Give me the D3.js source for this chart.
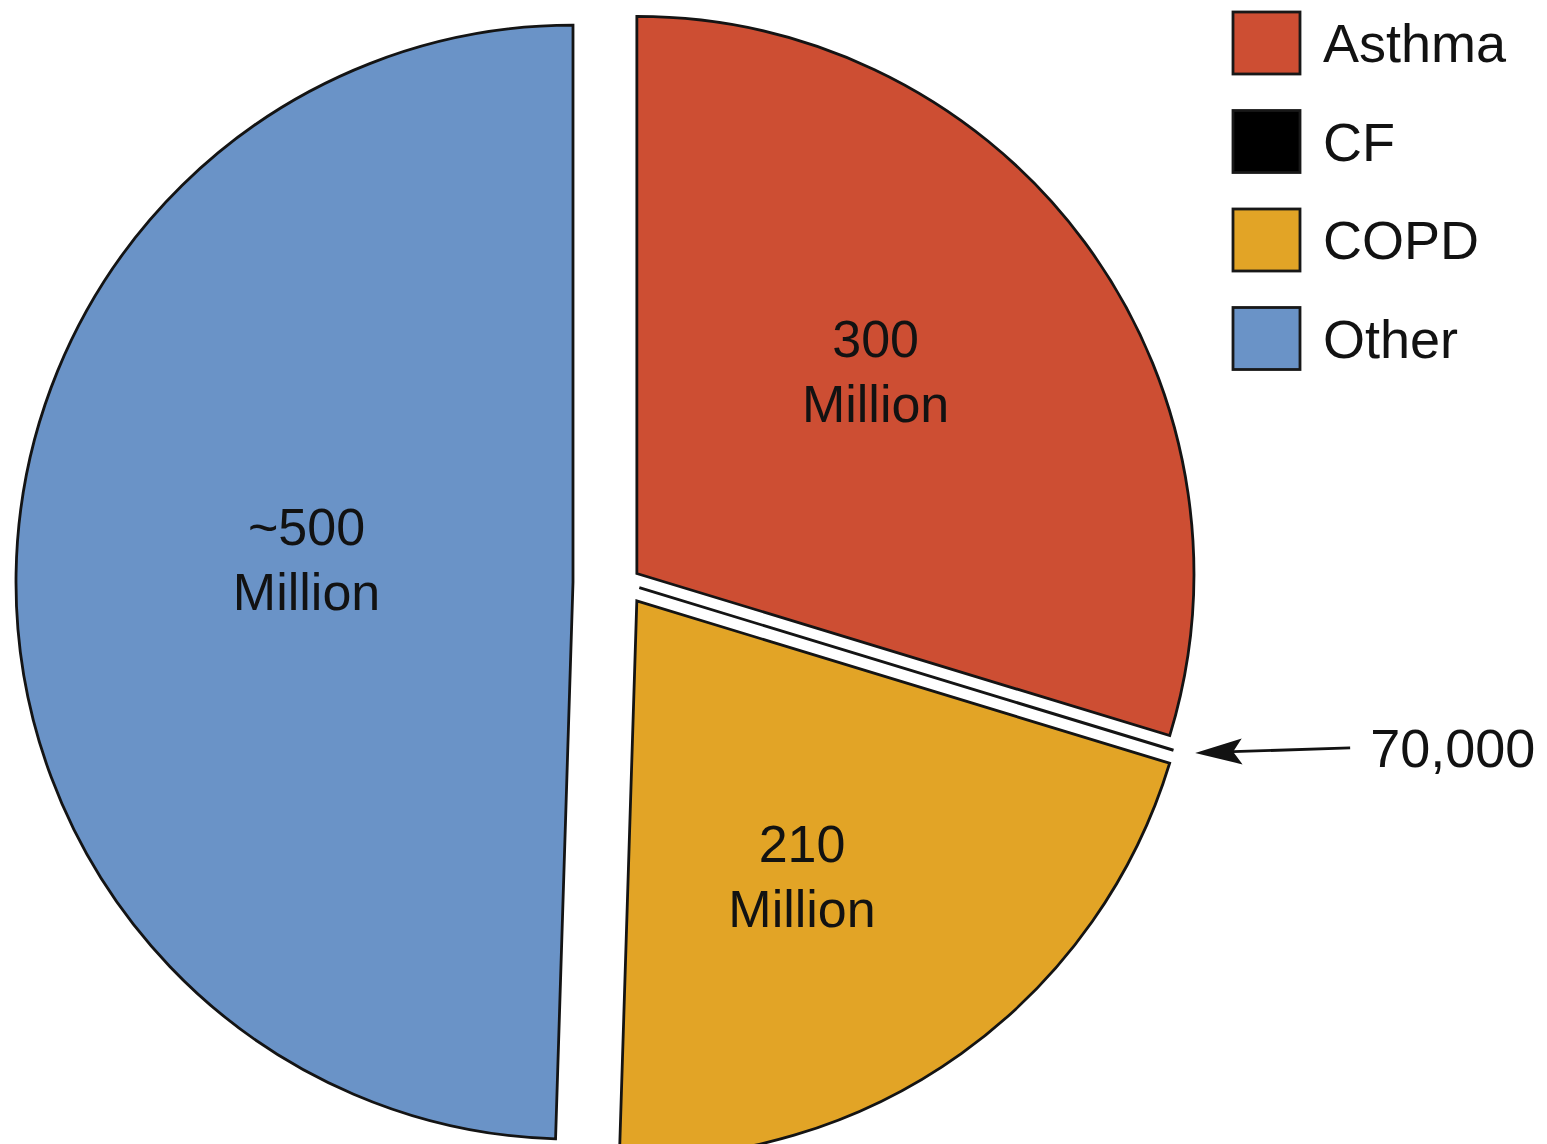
<!DOCTYPE html>
<html>
<head>
<meta charset="utf-8">
<script src="https://cdn.jsdelivr.net/npm/d3@7"></script>
<style>
  html, body { margin: 0; padding: 0; background: #ffffff; }
  svg { display: block; }
  text { font-family: "Liberation Sans", Arial, Helvetica, sans-serif; fill: #121212; }
</style>
</head>
<body>
<svg id="chart" width="1547" height="1144"></svg>
<script>
// People affected by chronic respiratory disease, by condition
const categories = ["Asthma", "CF", "COPD", "Other"];
const values = [300e6, 70e3, 210e6, 500e6];
const sliceLabels = [["300", "Million"], null, ["210", "Million"], ["~500", "Million"]];
const calloutLabel = "70,000";
const colors = ["#CD4E33", "#000000", "#E2A426", "#6A93C7"];

// layout
const width = 1547, height = 1144;
const cx = 624, cy = 583, R = 557;
const explode = { Asthma: 16, CF: 16, COPD: 22, Other: 51 };
const labelNudge = { Asthma: [15, -36], COPD: [3, 50], Other: [12, -18] };

const data = categories.map((c, i) => ({ name: c, value: values[i], color: colors[i], label: sliceLabels[i] }));

const svg = d3.select("#chart");

const pie = d3.pie()
  .sort(null)
  .value(d => d.value)
  .startAngle(0)
  .endAngle(2 * Math.PI);

const arc = d3.arc().innerRadius(0).outerRadius(R);
const arcs = pie(data);

// unit vector along a slice's mid angle (d3 angles: 0 at 12 o'clock, clockwise)
function dir(a) { return [Math.sin(a), -Math.cos(a)]; }
function sliceCenter(d) {
  const m = (d.startAngle + d.endAngle) / 2;
  const [ux, uy] = dir(m);
  const k = explode[d.data.name];
  return [cx + ux * k, cy + uy * k];
}

const slices = svg.append("g").attr("class", "slices")
  .selectAll("g")
  .data(arcs)
  .join("g")
  .attr("transform", d => `translate(${sliceCenter(d)})`);

slices.append("path")
  .attr("d", arc)
  .attr("fill", d => d.data.color)
  .attr("stroke", "#141414")
  .attr("stroke-width", 2.8)
  .attr("stroke-linejoin", "miter");

// value labels inside the large slices
const labelled = slices.filter(d => d.data.label);
labelled.each(function (d) {
  const [x, y] = arc.centroid(d);
  const [nx, ny] = labelNudge[d.data.name];
  const t = d3.select(this).append("text")
    .attr("text-anchor", "middle")
    .attr("font-size", 52);
  t.append("tspan").attr("x", x + nx).attr("y", y + ny - 15).text(d.data.label[0]);
  t.append("tspan").attr("x", x + nx).attr("y", y + ny + 50).text(d.data.label[1]);
});

// callout arrow for the thin CF slice
const cf = arcs.find(d => d.data.name === "CF");
const [cfx, cfy] = sliceCenter(cf);
const [ux, uy] = dir((cf.startAngle + cf.endAngle) / 2);
const outer = [cfx + ux * R, cfy + uy * R];
const tip = [outer[0] + 23, outer[1] + 3];
const tail = [tip[0] + 155, tip[1] - 5];
const ang = Math.atan2(tail[1] - tip[1], tail[0] - tip[0]) * 180 / Math.PI;

const callout = svg.append("g").attr("class", "callout");
callout.append("line")
  .attr("x1", tip[0] + 30).attr("y1", tip[1] - 1)
  .attr("x2", tail[0]).attr("y2", tail[1])
  .attr("stroke", "#121212")
  .attr("stroke-width", 2.8);
callout.append("path")
  .attr("transform", `translate(${tip}) rotate(${ang})`)
  .attr("d", "M0,0 L47,-13 L38,0 L47,13 Z")
  .attr("fill", "#121212");
callout.append("text")
  .attr("x", tail[0] + 20)
  .attr("y", tip[1] + 14)
  .attr("font-size", 54)
  .text(calloutLabel);

// legend
const legend = svg.append("g").attr("class", "legend")
  .attr("transform", "translate(1233,12)")
  .selectAll("g")
  .data(data)
  .join("g")
  .attr("transform", (d, i) => `translate(0,${i * 98.5})`);

legend.append("rect")
  .attr("width", 67)
  .attr("height", 62)
  .attr("fill", d => d.color)
  .attr("stroke", "#181818")
  .attr("stroke-width", 2.8);

legend.append("text")
  .attr("x", 90)
  .attr("y", 50)
  .attr("font-size", 54)
  .text(d => d.name);
</script>
</body>
</html>
